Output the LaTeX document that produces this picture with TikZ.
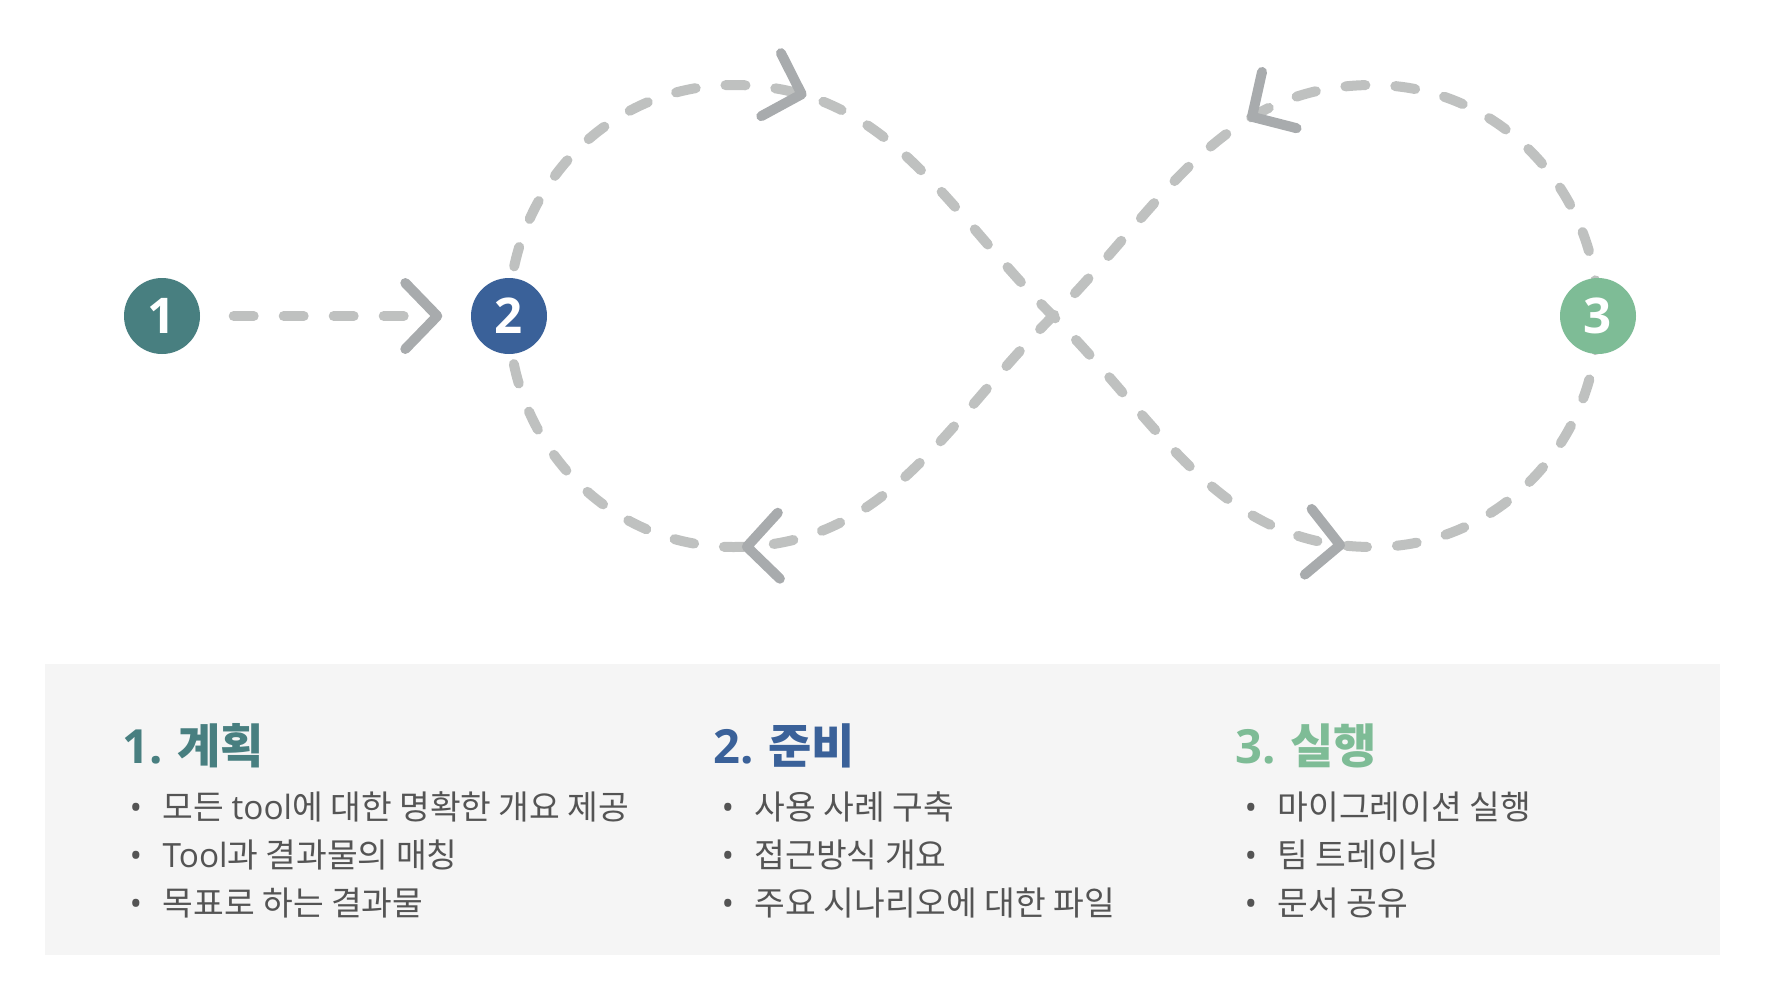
\documentclass[tikz,border=0pt]{standalone}
\usepackage{fontspec}
\setmainfont{Noto Sans CJK KR}
\newfontfamily\latin{Open Sans}
\usetikzlibrary{arrows.meta,decorations.markings,backgrounds}

\definecolor{planteal}{RGB}{72,127,128}
\definecolor{prepblue}{RGB}{58,97,153}
\definecolor{execgreen}{RGB}{126,188,150}
\definecolor{dashgray}{RGB}{191,193,192}
\definecolor{chevgray}{RGB}{168,171,173}
\definecolor{panelgray}{RGB}{245,245,245}
\definecolor{textgray}{RGB}{84,84,84}

\tikzset{
  chev/.tip={Straight Barb[length=3.2mm,width=6.6mm,line width=1mm,round,color=chevgray]},
  stage/.style={circle,minimum size=7.6mm,inner sep=0pt,text=white,font=\latin\bfseries\fontsize{14}{14}\selectfont},
  flow/.style={dashgray,line width=1mm,line cap=round,dash pattern=on 2mm off 3mm},
  headtext/.style={anchor=base west,inner sep=0pt,font=\bfseries\fontsize{13.4}{14}\selectfont},
  itemtext/.style={anchor=base west,inner sep=0pt,text=textgray,font=\fontsize{9.5}{10}\selectfont},
}
\newcommand{\bul}{\makebox[3.3mm][l]{{\latin •}}}

\begin{document}
\begin{tikzpicture}
		\useasboundingbox (0,0) rectangle (17.66,9.80);

		% --- TOP: three stages on an infinity loop ---
		\node[stage, fill=planteal] (plan) at (1.62,6.64) {1};
		\node[stage, fill=prepblue] (prep) at (5.09,6.64) {2};
		\node[stage, fill=execgreen] (exec) at (15.98,6.64) {3};

		\coordinate (cross) at (10.53,6.64);
		\coordinate (topL) at (7.33,8.95);
		\coordinate (botL) at (7.33,4.33);
		\coordinate (topR) at (13.73,8.95);
		\coordinate (botR) at (13.73,4.33);

		\draw[flow, -chev, shorten <=3.3mm, shorten >=2.8mm] (plan) -- (prep);

		\begin{scope}[on background layer]
			\draw[flow, postaction={decorate}, decoration={markings,
					mark=at position 4.32cm with {\arrow{chev}},
					mark=at position 11.48cm with {\arrow{chev}},
					mark=at position 20.24cm with {\arrow{chev}},
					mark=at position 27.02cm with {\arrow{chev}}}]
				(prep.center) to[out=90,in=180] (topL) to[out=0,in=135] (cross)
				to[out=-45,in=180] (botR) to[out=0,in=-90] (exec.center)
				to[out=90,in=0] (topR) to[out=180,in=45] (cross)
				to[out=-135,in=0] (botL) to[out=180,in=-90] (prep.center);
		\end{scope}

		% --- BOTTOM: panel with the three lists ---
		\fill[panelgray] (0.45,0.25) rectangle (17.20,3.16);
		\def\rowA{1.61}
		\def\rowB{1.13}
		\def\rowC{0.65}

		\node[headtext, text=planteal] (planhead) at (1.22,2.17) {{\latin 1.} 계획};
		\node[itemtext] (planA) at (1.29,\rowA) {\bul 모든 {\latin tool}에 대한 명확한 개요 제공};
		\node[itemtext] (planB) at (1.29,\rowB) {\bul {\latin Tool}과 결과물의 매칭};
		\node[itemtext] (planC) at (1.29,\rowC) {\bul 목표로 하는 결과물};

		\node[headtext, text=prepblue] (prephead) at (7.13,2.17) {{\latin 2.} 준비};
		\node[itemtext] (prepA) at (7.21,\rowA) {\bul 사용 사례 구축};
		\node[itemtext] (prepB) at (7.21,\rowB) {\bul 접근방식 개요};
		\node[itemtext] (prepC) at (7.21,\rowC) {\bul 주요 시나리오에 대한 파일};

		\node[headtext, text=execgreen] (exechead) at (12.35,2.17) {{\latin 3.} 실행};
		\node[itemtext] (execA) at (12.44,\rowA) {\bul 마이그레이션 실행};
		\node[itemtext] (execB) at (12.44,\rowB) {\bul 팀 트레이닝};
		\node[itemtext] (execC) at (12.44,\rowC) {\bul 문서 공유};
	\end{tikzpicture}
\end{document}
